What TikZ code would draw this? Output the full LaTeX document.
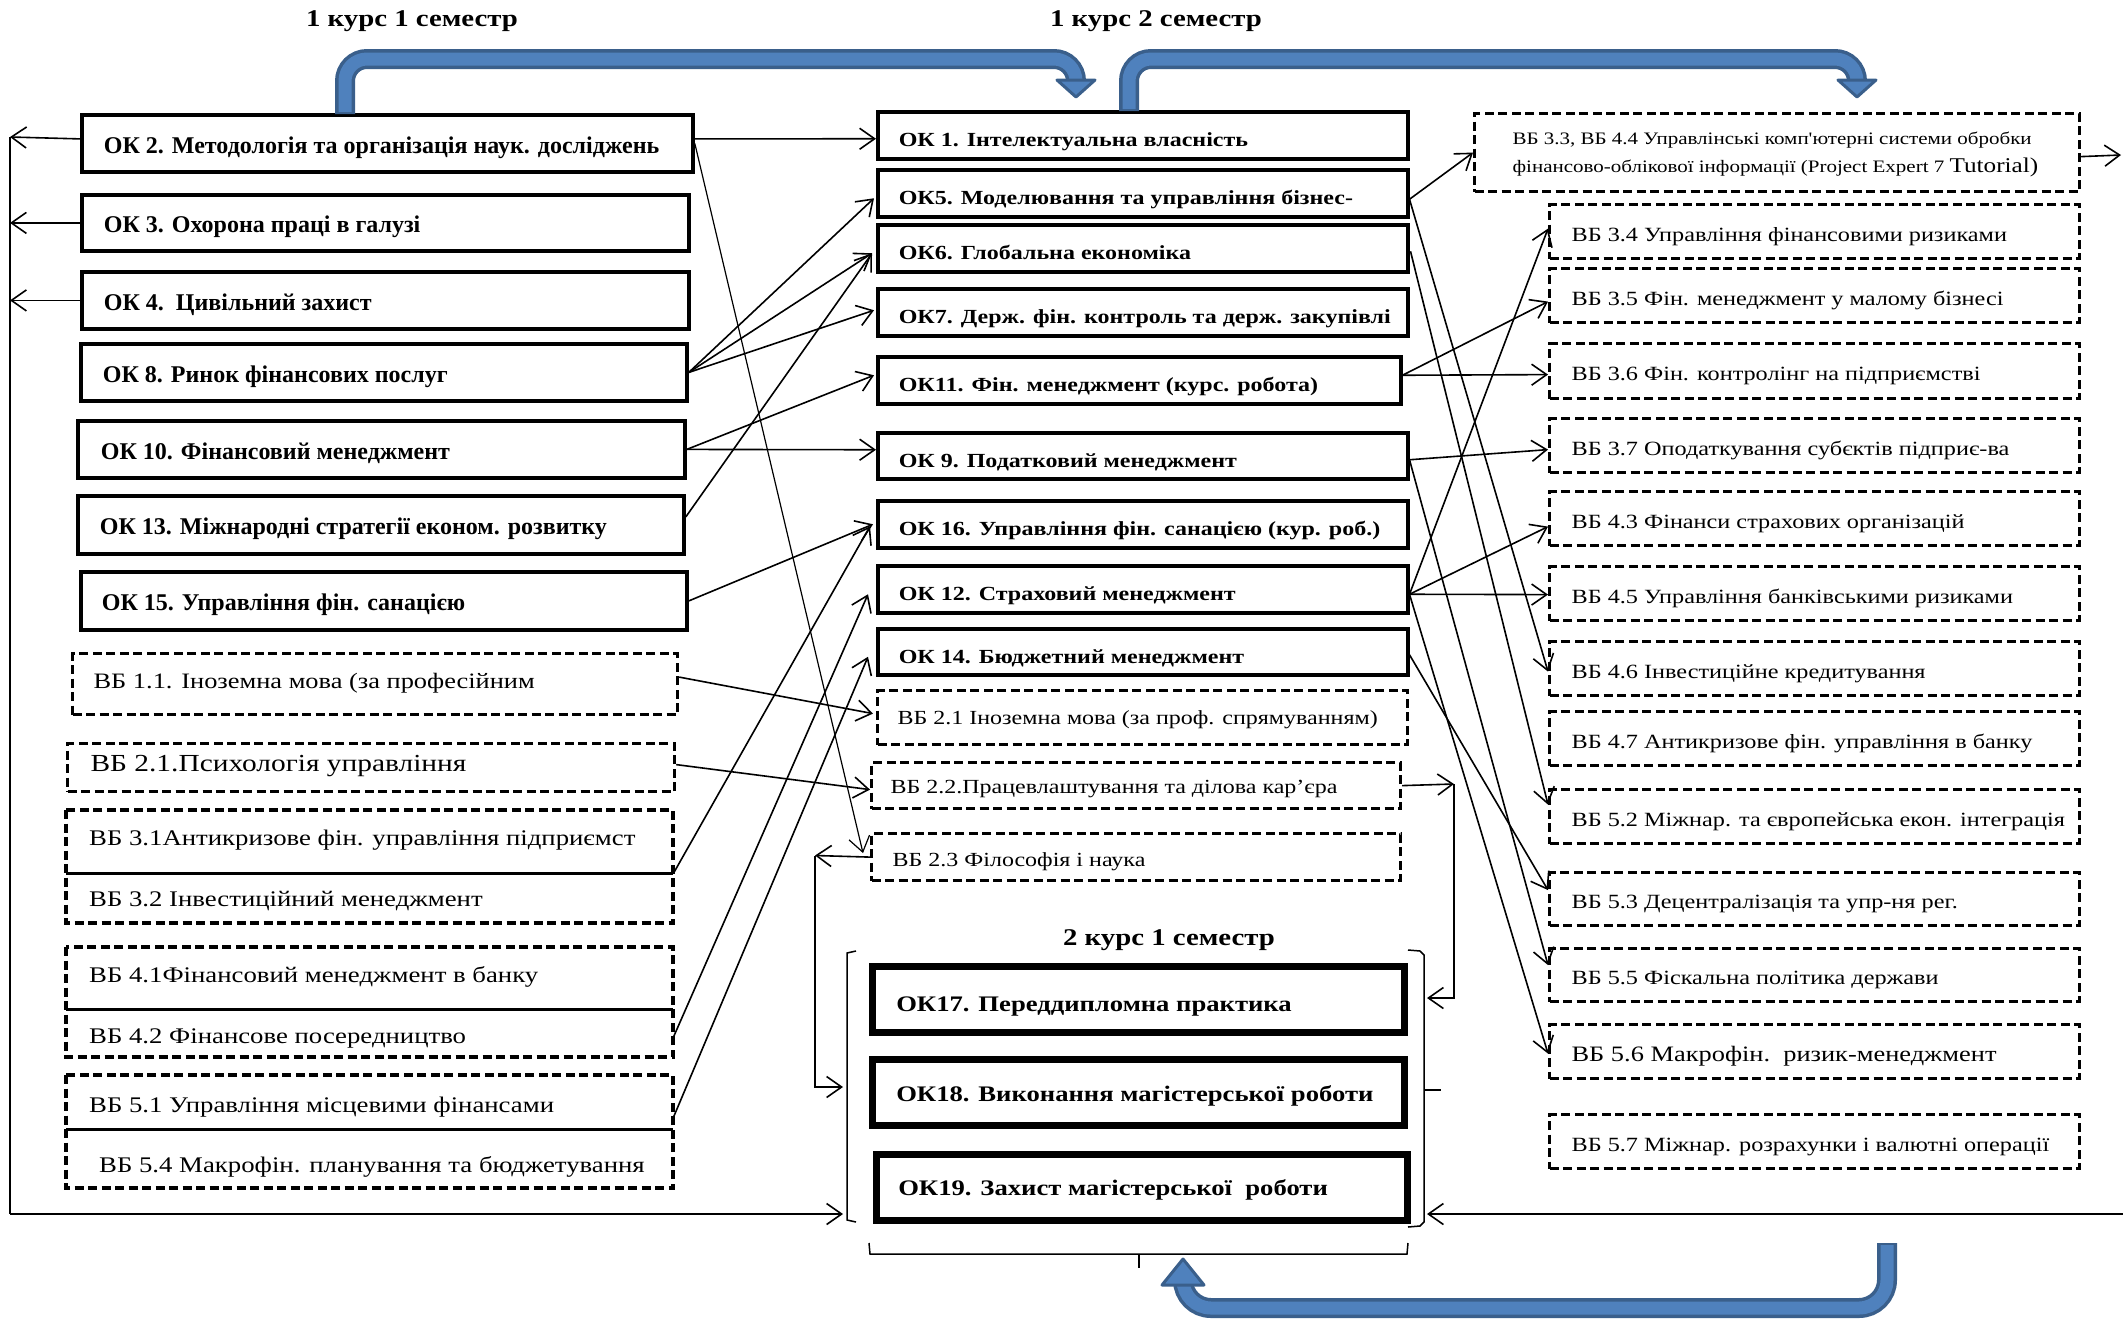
\documentclass[tikz,border=0pt]{standalone}
\usepackage{fontspec}
\setmainfont{Liberation Serif}
\newfontfamily\wide[FakeStretch=1.2]{Liberation Serif}
\usetikzlibrary{arrows.meta,calc}
\definecolor{bluedark}{HTML}{3A5F8B}
\definecolor{bluemid}{HTML}{4F81BD}
% #1 style, #2 name, #3 x, #4 y, #5 w, #6 h, #7 pad, #8 text
\newcommand{\bx}[8]{%
  \pgfmathsetmacro{\bxtw}{#5-2*#7}%
  \node[#1, anchor=north west, minimum width=#5pt, minimum height=#6pt, inner xsep=#7pt, inner ysep=0pt] (#2) at (#3,#4) {\makebox[\bxtw pt][l]{#8}};}
\tikzset{
 tshift/.style={text height=#1pt, text depth=0pt},
 okL/.style={draw, line width=3.8pt, font=\bfseries\fontsize{24}{28}\selectfont, tshift=20},
 okM/.style={draw, line width=3.5pt, font=\wide\bfseries\fontsize{20}{24}\selectfont, tshift=23},
 okB/.style={draw, line width=6.5pt, font=\wide\bfseries\fontsize{22.2}{27}\selectfont},
 dbox/.style={draw, line width=3.2pt, dash pattern=on 9pt off 4.5pt},
 vbL/.style={font=\wide\fontsize{22.3}{27}\selectfont},
 vbM/.style={dbox, font=\wide\fontsize{20}{24}\selectfont},
 vbR/.style={dbox, font=\wide\fontsize{20.2}{24}\selectfont, tshift=19},
 divl/.style={line width=3pt},
 arr/.style={line width=1.6pt, -{Straight Barb[length=15pt,width=21pt]}},
 ln/.style={line width=1.6pt},
 ttl/.style={font=\wide\bfseries\fontsize{24}{28}\selectfont},
 pipeO/.style={line width=20pt, draw=bluedark, rounded corners=22pt},
 pipeI/.style={line width=13pt, draw=bluemid, rounded corners=22pt},
 headS/.style={fill=bluemid, draw=bluedark, line width=3pt, line join=round},
 brk/.style={line width=1.5pt},
}
\begin{document}
\begin{tikzpicture}[x=1pt,y=-1pt]
\useasboundingbox (0,0) rectangle (2123,1318);

% titles
\node[ttl] (t1) at (412,21) {1 курс 1 семестр};
\node[ttl] (t2) at (1156,21) {1 курс 2 семестр};
\node[ttl] (t3) at (1169,940) {2 курс 1 семестр};

% left column
\bx{okL}{ok2}{80}{113}{611}{57}{22}{ОК 2. Методологія та організація наук. досліджень}
\bx{okL}{ok3}{80}{193}{607}{56}{22}{ОК 3. Охорона праці в галузі}
\bx{okL}{ok4}{80}{270}{607}{57}{22}{ОК 4.\ \ Цивільний захист}
\bx{okL}{ok8}{79}{342}{606}{57}{22}{ОК 8. Ринок фінансових послуг}
\bx{okL}{ok10}{76}{419}{607}{57}{23}{ОК 10. Фінансовий менеджмент}
\bx{okL}{ok13}{76}{494}{606}{58}{22}{ОК 13. Міжнародні стратегії економ. розвитку}
\bx{okL}{ok15}{79}{570}{606}{58}{21}{ОК 15. Управління фін. санацією}

\bx{dbox,vbL,tshift=9,font=\wide\fontsize{22}{27}\selectfont}{vb11}{71}{652}{605}{61}{21}{ВБ 1.1. Іноземна мова (за професійним}
\bx{dbox,vbL,tshift=8,font=\wide\fontsize{24.5}{29}\selectfont}{vb21p}{66}{742}{607}{48}{23}{ВБ 2.1.Психологія управління}
\draw[dbox] (66,810) rectangle (673,923);
\bx{vbL,tshift=7}{vb31}{66}{810}{607}{63}{23}{ВБ 3.1Антикризове фін. управління підприємст}
\bx{vbL,tshift=16}{vb32}{66}{873}{607}{50}{23}{ВБ 3.2 Інвестиційний менеджмент}
\draw[divl] (vb31.south west) -- (vb31.south east);
\draw[dbox] (66,947) rectangle (673,1057);
\bx{vbL,tshift=8}{vb41}{66}{947}{607}{62}{23}{ВБ 4.1Фінансовий менеджмент в банку}
\bx{vbL,tshift=20}{vb42}{66}{1009}{607}{48}{23}{ВБ 4.2 Фінансове посередництво}
\draw[divl] (vb41.south west) -- (vb41.south east);
\draw[dbox] (66,1075) rectangle (673,1188);
\bx{vbL,tshift=20}{vb51}{66}{1075}{607}{54}{23}{ВБ 5.1 Управління місцевими фінансами}
\bx{vbL,tshift=27}{vb54}{66}{1129}{607}{59}{33}{ВБ 5.4 Макрофін. планування та бюджетування}
\draw[divl] (vb51.south west) -- (vb51.south east);

% middle column
\bx{okM}{ok1}{876}{110}{530}{47}{21}{ОК 1. Інтелектуальна власність}
\bx{okM}{ok5}{876}{168}{530}{47}{21}{ОК5. Моделювання та управління бізнес-}
\bx{okM}{ok6}{876}{223}{530}{47}{21}{ОК6. Глобальна економіка}
\bx{okM}{ok7}{876}{287}{530}{47}{21}{ОК7. Держ. фін. контроль та держ. закупівлі}
\bx{okM}{ok11}{876}{355}{523}{47}{21}{ОК11. Фін. менеджмент (курс. робота)}
\bx{okM}{ok9}{876}{431}{530}{46}{21}{ОК 9. Податковий менеджмент}
\bx{okM}{ok16}{876}{499}{530}{47}{21}{ОК 16. Управління фін. санацією (кур. роб.)}
\bx{okM}{ok12}{876}{564}{530}{47}{21}{ОК 12. Страховий менеджмент}
\bx{okM}{ok14}{876}{627}{530}{46}{21}{ОК 14. Бюджетний менеджмент}
\bx{vbM,tshift=14}{vb21m}{876}{689}{530}{54}{20}{ВБ 2.1 Іноземна мова (за проф. спрямуванням)}
\bx{vbM,tshift=16}{vb22}{870}{761}{529}{46}{19}{ВБ 2.2.Працевлаштування та ділова кар’єра}
\bx{vbM,tshift=19}{vb23}{870}{832}{529}{47}{21}{ВБ 2.3 Філософія і наука}

\bx{okB,tshift=24}{ok17}{869}{963}{532}{66}{24}{ОК17. Переддипломна практика}
\bx{okB,tshift=18}{ok18}{869}{1056}{532}{66}{24}{ОК18. Виконання магістерської роботи}
\bx{okB,tshift=16}{ok19}{873}{1151}{531}{66}{22}{ОК19. Захист магістерської\ \ роботи}

% right column
\bx{dbox,font=\wide\fontsize{17.5}{28}\selectfont}{vb33}{1473}{112}{605}{78}{38}{\begin{tabular}{@{}l@{}}ВБ 3.3, ВБ 4.4 Управлінські комп'ютерні системи обробки\\фінансово-облікової інформації (Project Expert 7 {\fontsize{21}{28}\selectfont Tutorial)}\end{tabular}}
\bx{vbR}{vb34}{1548}{203}{530}{54}{22}{ВБ 3.4 Управління фінансовими ризиками}
\bx{vbR}{vb35}{1548}{267}{530}{54}{22}{ВБ 3.5 Фін. менеджмент у малому бізнесі}
\bx{vbR}{vb36}{1548}{342}{530}{55}{22}{ВБ 3.6 Фін. контролінг на підприємстві}
\bx{vbR}{vb37}{1548}{417}{530}{54}{22}{ВБ 3.7 Оподаткування субєктів підприє-ва}
\bx{vbR}{vb43}{1548}{490}{530}{54}{22}{ВБ 4.3 Фінанси страхових організацій}
\bx{vbR}{vb45}{1548}{565}{530}{54}{22}{ВБ 4.5 Управління банківськими ризиками}
\bx{vbR}{vb46}{1548}{640}{530}{54}{22}{ВБ 4.6 Інвестиційне кредитування}
\bx{vbR}{vb47}{1548}{710}{530}{54}{22}{ВБ 4.7 Антикризове фін. управління в банку}
\bx{vbR}{vb52}{1548}{788}{530}{54}{22}{ВБ 5.2 Міжнар. та європейська екон. інтеграція}
\bx{vbR}{vb53}{1548}{871}{530}{53}{22}{ВБ 5.3 Децентралізація та упр-ня рег.}
\bx{vbR}{vb55}{1548}{947}{530}{53}{22}{ВБ 5.5 Фіскальна політика держави}
\bx{vbR,font=\wide\fontsize{22}{26}\selectfont}{vb56}{1548}{1023}{530}{54}{22}{ВБ 5.6 Макрофін.\ \ ризик-менеджмент}
\bx{vbR}{vb57}{1548}{1113}{530}{54}{22}{ВБ 5.7 Міжнар. розрахунки і валютні операції}

% brackets of the 2nd-year group
\draw[brk] (856,951) -- (847,953) -- (847,1220) -- (856,1222);
\draw[brk] (1408,950) -- (1420,951) -- (1424,955) -- (1424,1222) -- (1420,1226) -- (1408,1227);
\draw[brk] (1424,1090) -- (1441,1090);
\draw[brk] (869,1243) -- (870,1254) -- (1407,1254) -- (1408,1243);
\draw[brk] (1139,1254) -- (1139,1268);

% free ends
\coordinate (railtop) at (10,137);
\coordinate (railbot) at (10,1214);
\coordinate (lbr1) at (843,1087);
\coordinate (lbr2) at (843,1214);
\coordinate (rbr1) at (1427,998);
\coordinate (rbr2) at (1427,1214);
\coordinate (redge1) at (2121,155);
\coordinate (redge2) at (2123,1214);
\coordinate (j22) at (1454,784);
\coordinate (j23) at (815,855.5);

% left rail
\draw[arr] ($(ok2.west)+(0,-4.5)$) -- (railtop);
\draw[arr] (ok3.west) -- (ok3.west -| railtop);
\draw[arr] (ok4.west) -- (ok4.west -| railtop);
\draw[ln] (railtop) -- (railbot);
\draw[arr] (railbot) -- (lbr2);

% left -> middle
\draw[arr] ($(ok2.east)+(0,-4.5)$) -- ($(ok1.west)+(0,3.5)$);
\draw[arr,line width=1.2pt] (ok2.east) -- ($(vb23.west)+(-7,-4)$);
\draw[arr] (ok8.east) -- ($(ok5.west)+(-2,5)$);
\draw[arr] (ok8.east) -- ($(ok6.west)+(-4,5)$);
\draw[arr] (ok8.east) -- ($(ok7.west)+(-2,-2)$);
\draw[arr] (ok10.east) -- ($(ok11.west)+(-2,-5)$);
\draw[arr] (ok10.east) -- ($(ok9.west)+(0,-6)$);
\draw[arr] ($(ok13.east)+(0,-8)$) -- ($(ok6.west)+(-4,5)$);
\draw[arr] (ok15.east) -- ($(ok16.west)+(-3,0)$);
\draw[arr] ($(vb11.east)+(0,-7)$) -- ($(vb21m.west)+(-3,-4)$);
\draw[arr] ($(vb21p.east)+(0,-3)$) -- ($(vb22.west)+(0,4)$);
\draw[arr] (vb31.south east) -- ($(ok16.west)+(-6,2)$);
\draw[arr] ($(vb42.east)+(0,4)$) -- ($(ok12.west)+(-8,5)$);
\draw[arr] ($(vb51.south east)+(0,-12)$) -- ($(ok14.west)+(-8,5)$);

% middle -> right
\draw[arr] ($(ok5.east)+(0,6)$) -- (vb33.west);
\draw[arr] ($(ok5.east)+(0,6)$) -- ($(vb46.west)+(0,3)$);
\draw[arr] ($(ok6.east)+(1,3)$) -- ($(vb52.west)+(0,-12)$);
\draw[arr] ($(ok11.east)+(0,-5)$) -- ($(vb35.west)+(0,6)$);
\draw[arr] ($(ok11.east)+(0,-5)$) -- ($(vb36.west)+(0,3.5)$);
\draw[arr] ($(ok9.east)+(0,4)$) -- ($(vb37.west)+(0,4)$);
\draw[arr] ($(ok9.east)+(0,4)$) -- ($(vb55.west)+(0,-10)$);
\draw[arr] ($(ok12.east)+(0,5)$) -- ($(vb34.west)+(0,-3)$);
\draw[arr] ($(ok12.east)+(0,5)$) -- ($(vb43.west)+(0,8)$);
\draw[arr] ($(ok12.east)+(0,5)$) -- ($(vb45.west)+(0,1)$);
\draw[arr] ($(ok12.east)+(0,5)$) -- ($(vb56.west)+(0,2)$);
\draw[arr] ($(ok14.east)+(0,3)$) -- ($(vb53.west)+(0,-9)$);
\draw[arr] ($(vb33.east)+(0,4)$) -- (redge1);
\draw[arr] (redge2) -- (rbr2);

% to the 2nd-year group
\draw[arr] (vb22.east) -- (j22);
\draw[arr] (j22) -- (j22 |- rbr1) -- (rbr1);
\draw[arr] (vb23.west) -- (j23);
\draw[arr] (j23) -- (j23 |- lbr1) -- (lbr1);

% blue block arrows
\draw[pipeO] ($(ok2.north west)+(265,1)$) -- (345,59) -- (1076,59) -- (1076,82);
\draw[pipeI] ($(ok2.north west)+(265,-1)$) -- (345,59) -- (1076,59) -- (1076,83);
\draw[headS] (1057,80) -- (1095,80) -- (1076,97) -- cycle;
\draw[pipeO] ($(ok1.north west)+(253,1)$) -- (1129,59) -- (1857,59) -- (1857,82);
\draw[pipeI] ($(ok1.north west)+(253,-1)$) -- (1129,59) -- (1857,59) -- (1857,83);
\draw[headS] (1838,80) -- (1876,80) -- (1857,97) -- cycle;
\draw[pipeO,rounded corners=28pt] (1887,1243) -- (1887,1308) -- (1183,1308) -- (1183,1283);
\draw[pipeI,rounded corners=28pt] (1887,1245) -- (1887,1308) -- (1183,1308) -- (1183,1282);
\draw[headS] (1162,1285) -- (1204,1285) -- (1183,1259) -- cycle;
\end{tikzpicture}
\end{document}
